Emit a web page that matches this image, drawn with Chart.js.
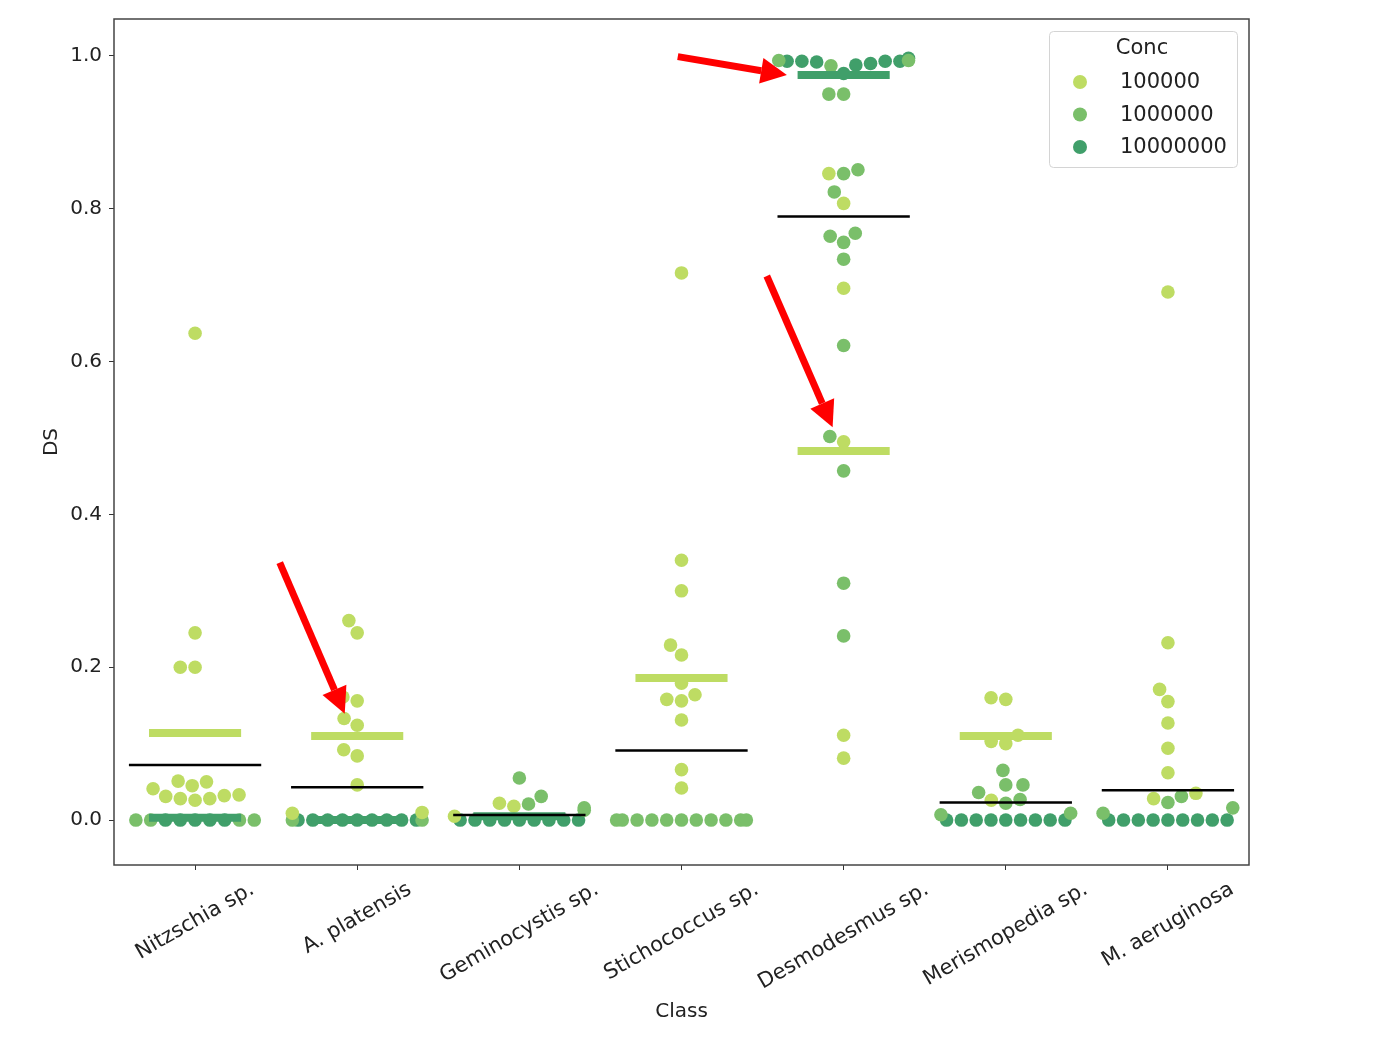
<!DOCTYPE html>
<html>
<head>
<meta charset="utf-8">
<script src="https://cdn.jsdelivr.net/npm/chart.js@4.4.0/dist/chart.umd.min.js"></script>
<style>
  html, body { margin: 0; padding: 0; background: #fff; }
  #wrap { width: 1376px; height: 1037px; }
</style>
</head>
<body>
<div id="wrap"><canvas id="swarm-chart"></canvas></div>
<script>
// Categories and hue levels
var classes = ["Nitzschia sp.", "A. platensis", "Geminocystis sp.", "Stichococcus sp.",
               "Desmodesmus sp.", "Merismopedia sp.", "M. aeruginosa"];
var concLabels = ["100000", "1000000", "10000000"];
var concColors = ["#bedc63", "#7abf6a", "#409f6a"];

// DS values per class, one list per concentration
var dsLow = [
  [0.637, 0.245, 0.200, 0.200, 0.051, 0.050, 0.045, 0.041, 0.033, 0.032, 0.031, 0.028, 0.028, 0.026],
  [0.261, 0.245, 0.161, 0.156, 0.133, 0.124, 0.092, 0.084, 0.046, 0.010, 0.009],
  [0.022, 0.018, 0.005],
  [0.716, 0.340, 0.300, 0.229, 0.216, 0.179, 0.164, 0.158, 0.156, 0.131, 0.066, 0.042],
  [0.846, 0.807, 0.696, 0.495, 0.111, 0.081],
  [0.160, 0.158, 0.111, 0.103, 0.100, 0.026],
  [0.691, 0.232, 0.171, 0.155, 0.127, 0.094, 0.062, 0.035, 0.028]
];
var dsMid = [
  [0, 0, 0, 0],
  [0, 0],
  [0.055, 0.031, 0.021, 0.016, 0.013],
  [0, 0, 0, 0, 0, 0, 0, 0, 0, 0, 0],
  [0.994, 0.994, 0.987, 0.950, 0.950, 0.851, 0.846, 0.822, 0.768, 0.764, 0.756, 0.734,
   0.621, 0.502, 0.457, 0.310, 0.241],
  [0.065, 0.046, 0.046, 0.036, 0.027, 0.022, 0.009, 0.007],
  [0.031, 0.023, 0.016, 0.009]
];
var dsHigh = [
  [0, 0, 0, 0, 0],
  [0, 0, 0, 0, 0, 0, 0, 0, 0],
  [0, 0, 0, 0, 0, 0, 0, 0, 0],
  [],
  [0.997, 0.993, 0.993, 0.993, 0.993, 0.992, 0.990, 0.988, 0.977],
  [0, 0, 0, 0, 0, 0, 0, 0, 0],
  [0, 0, 0, 0, 0, 0, 0, 0, 0]
];

// Mean lines per class (null = not drawn)
var meanLow  = [0.114, 0.110, null, 0.186, 0.483, 0.110, null];
var meanHigh = [0.003, 0.000, 0.005, null, 0.975, null, null];
var meanAll  = [0.072, 0.043, 0.0065, 0.091, 0.790, 0.023, 0.039];

var yTicks = [0.0, 0.2, 0.4, 0.6, 0.8, 1.0];

// Red arrows: [x tail, y tail, x tip, y tip] in data units
var arrows = [
  [2.977, 0.999, 3.650, 0.975],
  [3.526, 0.712, 3.932, 0.514],
  [0.522, 0.337, 0.923, 0.139]
];

Chart.defaults.font.family = '"DejaVu Sans", sans-serif';
Chart.defaults.color = "#222";

function segments(vals, hw) {
  var out = [];
  vals.forEach(function (v, i) {
    if (v === null) return;
    out.push({ x: i - hw, y: v }, { x: i + hw, y: v }, { x: i + hw, y: null });
  });
  return out;
}

var framePlugin = {
  id: "frame",
  afterDraw: function (chart) {
    var a = chart.chartArea, ctx = chart.ctx;
    ctx.save();
    ctx.strokeStyle = "#444";
    ctx.lineWidth = 1.5;
    ctx.strokeRect(a.left, a.top, a.right - a.left, a.bottom - a.top);
    ctx.restore();
  }
};

var xLabelPlugin = {
  id: "xLabels",
  afterDraw: function (chart) {
    var ctx = chart.ctx, xs = chart.scales.x, a = chart.chartArea;
    var ang = 30 * Math.PI / 180, h = 23;
    ctx.save();
    ctx.font = '21px "DejaVu Sans"';
    ctx.fillStyle = "#222";
    ctx.textAlign = "center";
    ctx.textBaseline = "middle";
    classes.forEach(function (c, i) {
      var w = ctx.measureText(c).width;
      var bh = w * Math.sin(ang) + h * Math.cos(ang);
      ctx.save();
      ctx.translate(xs.getPixelForValue(i), a.bottom + 13 + bh / 2);
      ctx.rotate(-ang);
      ctx.fillText(c, 0, 0);
      ctx.restore();
    });
    ctx.restore();
  }
};

var legendPlugin = {
  id: "concLegend",
  afterDraw: function (chart) {
    var ctx = chart.ctx, a = chart.chartArea;
    var w = 188, h = 136, left = a.right - 12 - w, top = a.top + 12;
    ctx.save();
    ctx.fillStyle = "rgba(255,255,255,0.85)";
    ctx.strokeStyle = "#d4d4d4";
    ctx.lineWidth = 1;
    ctx.beginPath();
    ctx.roundRect(left + 0.5, top + 0.5, w, h, 4);
    ctx.fill();
    ctx.stroke();
    ctx.font = '21px "DejaVu Sans"';
    ctx.fillStyle = "#222";
    ctx.textBaseline = "middle";
    ctx.textAlign = "center";
    ctx.fillText("Conc", left + 93, top + 18);
    ctx.textAlign = "left";
    concLabels.forEach(function (lab, k) {
      var y = top + 51 + 32.5 * k;
      ctx.beginPath();
      ctx.fillStyle = concColors[k];
      ctx.arc(left + 31, y, 7, 0, Math.PI * 2);
      ctx.fill();
      ctx.fillStyle = "#222";
      ctx.fillText(lab, left + 71, y + 1);
    });
    ctx.restore();
  }
};

var arrowPlugin = {
  id: "arrows",
  afterDraw: function (chart) {
    var ctx = chart.ctx, xs = chart.scales.x, ys = chart.scales.y;
    ctx.save();
    ctx.fillStyle = "#ff0000";
    ctx.strokeStyle = "#ff0000";
    arrows.forEach(function (ar) {
      var x1 = xs.getPixelForValue(ar[0]), y1 = ys.getPixelForValue(ar[1]);
      var x2 = xs.getPixelForValue(ar[2]), y2 = ys.getPixelForValue(ar[3]);
      var ang = Math.atan2(y2 - y1, x2 - x1), headLen = 26, headW = 13;
      var bx = x2 - headLen * Math.cos(ang), by = y2 - headLen * Math.sin(ang);
      ctx.lineWidth = 7;
      ctx.beginPath();
      ctx.moveTo(x1, y1);
      ctx.lineTo(bx, by);
      ctx.stroke();
      ctx.beginPath();
      ctx.moveTo(x2, y2);
      ctx.lineTo(bx + headW * Math.sin(ang), by - headW * Math.cos(ang));
      ctx.lineTo(bx - headW * Math.sin(ang), by + headW * Math.cos(ang));
      ctx.closePath();
      ctx.fill();
    });
    ctx.restore();
  }
};

var ctx = document.getElementById("swarm-chart");

var chartData = {
  datasets: [
    { type: "line", label: "meanAll", data: segments(meanAll, 0.408), borderColor: "#000",
      borderWidth: 2.5, pointRadius: 0, spanGaps: false, fill: false },
    { type: "line", label: "meanHigh", data: segments(meanHigh, 0.284), borderColor: concColors[2],
      borderWidth: 8, pointRadius: 0, spanGaps: false, fill: false },
    { type: "line", label: "meanLow", data: segments(meanLow, 0.284), borderColor: concColors[0],
      borderWidth: 8, pointRadius: 0, spanGaps: false, fill: false },
    { label: concLabels[0], data: [], backgroundColor: concColors[0], pointRadius: 6.8, pointBorderWidth: 0 },
    { label: concLabels[1], data: [], backgroundColor: concColors[1], pointRadius: 6.8, pointBorderWidth: 0 },
    { label: concLabels[2], data: [], backgroundColor: concColors[2], pointRadius: 6.8, pointBorderWidth: 0 }
  ]
};

var chartOptions = {
  responsive: true,
  maintainAspectRatio: false,
  animation: false,
  layout: { padding: { top: 17, right: 127, left: 0, bottom: 0 } },
  plugins: { legend: { display: false }, tooltip: { enabled: false } },
  scales: {
    x: {
      type: "linear", min: -0.5, max: 6.5,
      afterBuildTicks: function (s) { s.ticks = classes.map(function (c, i) { return { value: i }; }); },
      afterFit: function (s) { s.height = 172; },
      ticks: { callback: function () { return ""; }, maxRotation: 0 },
      grid: { display: true, drawOnChartArea: false, drawTicks: true, tickLength: 5, color: "#333" },
      border: { display: false },
      title: { display: true, text: "Class", font: { size: 20 }, color: "#222", padding: { top: 0, bottom: 13 } }
    },
    y: {
      min: -0.0588, max: 1.0483,
      afterBuildTicks: function (s) { s.ticks = yTicks.map(function (v) { return { value: v }; }); },
      afterFit: function (s) { s.width = 114; },
      ticks: { callback: function (v) { return v.toFixed(1); }, font: { size: 20 }, color: "#222", padding: 7 },
      grid: { display: true, drawOnChartArea: false, drawTicks: true, tickLength: 5, color: "#333" },
      border: { display: false },
      title: { display: true, text: "DS", font: { size: 20 }, color: "#222", padding: { top: 40, bottom: 0 } }
    }
  }
};

var swarmChart = new Chart(ctx, {
  type: "scatter",
  data: chartData,
  options: chartOptions,
  plugins: [framePlugin, xLabelPlugin, legendPlugin, arrowPlugin]
});

// Beeswarm placement in pixel space, using the chart's own scales
function placeSwarm(chart) {
  var xs = chart.scales.x, ys = chart.scales.y;
  var unit = xs.getPixelForValue(1) - xs.getPixelForValue(0);
  var d = 14.8, half = 0.4 * unit;
  var groups = [dsHigh, dsMid, dsLow];
  var out = [[], [], []];
  classes.forEach(function (c, i) {
    var pts = [];
    groups.forEach(function (g, k) {
      g[i].forEach(function (v) { pts.push({ k: k, v: v, py: ys.getPixelForValue(v) }); });
    });
    pts.sort(function (a, b) { return a.v - b.v; });
    var placed = [];
    pts.forEach(function (p) {
      var cands = [0];
      placed.forEach(function (q) {
        var dy = q.py - p.py;
        if (Math.abs(dy) < d) {
          var dx = Math.sqrt(d * d - dy * dy);
          cands.push(q.dx - dx, q.dx + dx);
        }
      });
      cands.sort(function (a, b) { return (Math.abs(a) - Math.abs(b)) || (a - b); });
      var best = cands[cands.length - 1];
      for (var j = 0; j < cands.length; j++) {
        var cx = cands[j];
        var ok = placed.every(function (q) {
          return (q.dx - cx) * (q.dx - cx) + (q.py - p.py) * (q.py - p.py) >= d * d - 0.01;
        });
        if (ok) { best = cx; break; }
      }
      p.dx = best;
      placed.push(p);
    });
    placed.forEach(function (p) {
      var dx = Math.max(-half, Math.min(half, p.dx));
      out[2 - p.k].push({ x: i + dx / unit, y: p.v });
    });
  });
  chart.data.datasets[3].data = out[0];
  chart.data.datasets[4].data = out[1];
  chart.data.datasets[5].data = out[2];
  chart.update("none");
}

placeSwarm(swarmChart);
</script>
</body>
</html>
